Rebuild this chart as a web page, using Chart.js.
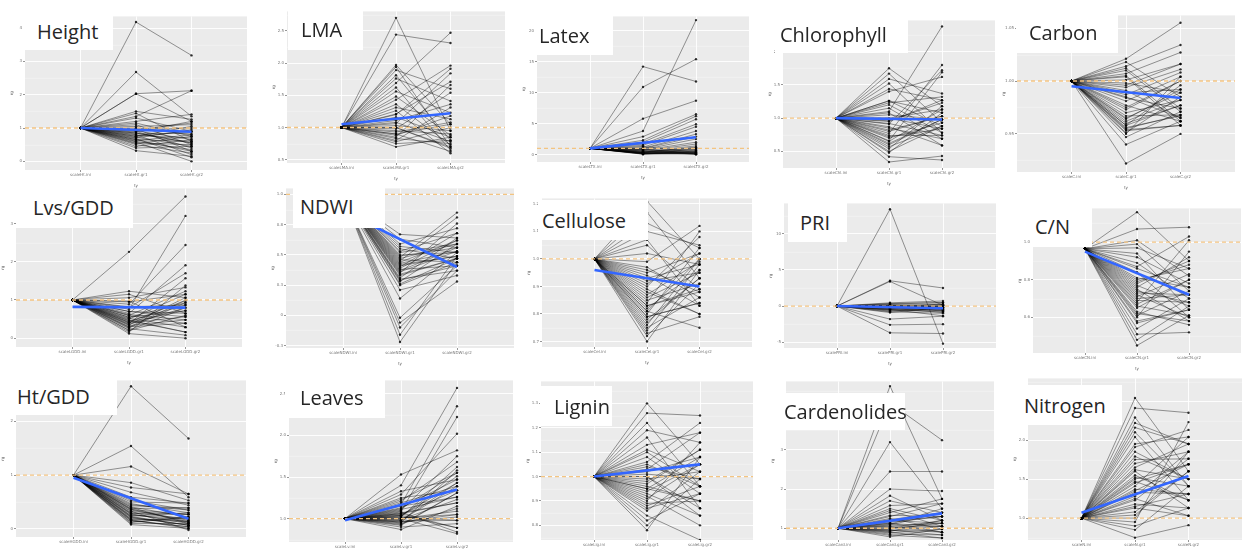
<!DOCTYPE html>
<html>
<head>
<meta charset="utf-8">
<script src="https://cdn.jsdelivr.net/npm/chart.js@4.4.1/dist/chart.umd.min.js"></script>
<style>
  html, body { margin: 0; padding: 0; background: #ffffff; }
  #fig { position: relative; width: 1249px; height: 550px; overflow: hidden; background: #ffffff; }
  #fig canvas { position: absolute; }
  .lab {
    position: absolute; background: #ffffff; box-sizing: border-box;
    font-family: 'Open Sans', 'DejaVu Sans', sans-serif; font-size: 20px; color: #262626;
    display: flex; align-items: center; z-index: 5; white-space: nowrap;
  }
</style>
</head>
<body>
<div id="fig"></div>
<script>
// ---- trait values per plant: value at first stage is the common start, then stage 2 and stage 3 ----

const heightStart = 1.0, heightRef = 1.0, heightTrend = [1.0, 0.89];
const heightTicks = ['scaleHt.ini', 'scaleHt.gr1', 'scaleHt.gr2'];
const heightMid = [4.18, 2.68, 2.03, 2.03, 1.50, 1.44, 1.35, 1.30, 1.20, 1.15, 1.10, 1.05, 1.00, 0.98, 0.95, 0.92, 0.90, 0.88, 0.85, 0.82, 0.80, 0.78, 0.75, 0.72, 0.70, 0.68, 0.65, 0.62, 0.60, 0.58, 0.55, 0.53, 0.50, 0.45, 0.40, 0.32, 0.95, 0.85, 0.75, 0.65];
const heightEnd = [3.18, 1.35, 2.12, 1.20, 1.26, 0.60, 2.12, 0.90, 1.41, 0.75, 0.50, 1.10, 0.80, 0.30, 1.00, 0.65, 0.40, 1.20, 0.55, 0.85, 0.20, 0.70, 1.05, 0.45, 0.95, 0.12, 0.60, 0.80, 0.35, 0.00, 0.50, 0.75, 0.25, 0.65, 0.45, 0.15, 1.15, 0.55, 0.90, 0.30];

const lmaStart = 1.0, lmaRef = 1.0, lmaTrend = [1.05, 1.22];
const lmaTicks = ['scaleLMA.ini', 'scaleLMA.gr1', 'scaleLMA.gr2'];
const lmaMid = [2.70, 2.44, 1.97, 1.94, 1.89, 1.81, 1.76, 1.69, 1.62, 1.56, 1.48, 1.43, 1.36, 1.31, 1.26, 1.21, 1.16, 1.11, 1.08, 1.06, 1.03, 1.00, 0.98, 0.95, 0.93, 0.90, 0.88, 0.85, 0.83, 0.80, 0.78, 0.75, 0.70, 1.20, 1.00, 0.90];
const lmaEnd = [0.95, 2.31, 1.05, 0.70, 1.60, 0.80, 1.41, 2.47, 0.65, 1.23, 0.88, 1.96, 0.73, 1.13, 0.60, 1.71, 0.85, 1.36, 0.78, 1.84, 0.95, 0.68, 1.54, 0.90, 1.08, 0.63, 1.18, 1.66, 0.75, 1.31, 1.00, 0.80, 0.85, 1.91, 0.70, 1.05];

const latexStart = 1.0, latexRef = 1.0, latexTrend = [1.0, 2.8];
const latexTicks = ['scaleLTX.ini', 'scaleLTX.gr1', 'scaleLTX.gr2'];
const latexMid = [14.2, 10.9, 5.8, 3.8, 2.9, 2.3, 2.0, 1.7, 1.5, 1.2, 1.0, 0.95, 0.8, 0.7, 0.6, 0.5, 0.4, 0.35, 0.3, 0.25, 0.2, 0.15, 0.1, 0.05, 0.9, 0.6, 0.4, 0.3, 0.2, 0.1, 1.3, 0.8, 0.5, 0.3, 0.2, 0.15];
const latexEnd = [11.8, 15.4, 8.7, 21.7, 6.5, 6.2, 5.7, 4.9, 4.5, 3.8, 3.3, 2.9, 2.5, 2.0, 1.7, 1.4, 1.2, 1.0, 0.8, 0.6, 0.5, 0.4, 0.3, 0.2, 0.1, 0.05, 1.1, 0.9, 0.7, 0.45, 0.35, 0.25, 0.15, 0.1, 0.05, 0.3];

const chlStart = 1.0, chlRef = 1.0, chlTrend = [1.0, 0.98];
const chlTicks = ['scaleChl.ini', 'scaleChl.gr1', 'scaleChl.gr2'];
const chlMid = [1.75, 1.67, 1.59, 1.52, 1.44, 1.40, 1.26, 1.26, 1.23, 1.15, 1.10, 1.05, 1.00, 1.00, 0.96, 0.91, 0.87, 0.82, 0.77, 0.74, 0.70, 0.66, 0.62, 0.57, 0.54, 0.48, 0.42, 0.34, 1.20, 0.95, 0.85, 0.80, 0.72, 0.65, 0.60, 1.08, 0.92, 0.50];
const chlEnd = [1.18, 0.93, 1.37, 0.78, 1.27, 1.62, 1.08, 0.88, 1.32, 0.69, 2.38, 0.98, 1.13, 0.84, 1.23, 1.72, 0.59, 1.03, 1.80, 0.74, 0.93, 1.69, 0.98, 0.88, 1.18, 1.08, 0.37, 0.43, 0.78, 1.27, 0.69, 1.03, 0.84, 1.13, 0.98, 0.59, 0.74, 0.88];

const carbonStart = 1.0, carbonRef = 1.0, carbonTrend = [0.995, 0.984];
const carbonTicks = ['scaleC.ini', 'scaleC.gr1', 'scaleC.gr2'];
const carbonMid = [1.021, 1.018, 1.014, 1.010, 1.007, 1.004, 1.001, 0.998, 0.994, 0.991, 0.987, 0.984, 0.981, 0.977, 0.973, 0.970, 0.967, 0.964, 0.960, 0.958, 0.956, 0.953, 0.951, 0.947, 0.940, 0.922, 1.012, 0.996, 0.985, 0.975, 0.965, 0.958, 0.955, 0.950, 1.005, 0.989, 0.962, 0.954];
const carbonEnd = [1.055, 0.985, 1.034, 0.971, 1.027, 0.958, 1.016, 0.989, 1.011, 0.965, 1.008, 0.974, 1.004, 0.962, 1.000, 0.982, 0.968, 0.992, 0.977, 0.996, 0.967, 0.958, 0.985, 0.971, 0.962, 0.950, 0.974, 1.016, 0.965, 1.000, 0.989, 0.977, 0.968, 1.004, 0.962, 0.992, 0.982, 0.958];

const lvsStart = 1.0, lvsRef = 1.0, lvsTrend = [0.82, 0.80];
const lvsTicks = ['scaleLGDD.ini', 'scaleLGDD.gr1', 'scaleLGDD.gr2'];
const lvsMid = [2.26, 1.23, 1.15, 1.06, 0.97, 0.89, 0.82, 0.76, 0.70, 0.65, 0.59, 0.55, 0.50, 0.46, 0.42, 0.38, 0.33, 0.29, 0.25, 0.21, 0.16, 0.12, 0.80, 0.70, 0.60, 0.52, 0.45, 0.40, 0.35, 0.30, 0.55, 0.48, 0.42, 0.62, 0.36, 0.27, 0.95, 0.20];
const lvsEnd = [3.71, 1.06, 0.65, 1.33, 0.29, 2.44, 0.87, 3.20, 0.56, 1.91, 0.39, 0.93, 1.15, 0.16, 0.72, 1.57, 0.48, 0.99, 0.08, 0.80, 1.38, 0.00, 1.70, 0.65, 1.23, 0.29, 0.87, 0.56, 1.06, 0.39, 0.72, 0.16, 0.99, 0.48, 0.80, 0.93, 1.15, 0.60];

const ndwiStart = 1.0, ndwiRef = 1.0, ndwiTrend = [0.86, 0.40];
const ndwiTicks = ['scaleNDWI.ini', 'scaleNDWI.gr1', 'scaleNDWI.gr2'];
const ndwiMid = [0.67, 0.63, 0.59, 0.55, 0.52, 0.50, 0.48, 0.46, 0.44, 0.42, 0.40, 0.38, 0.36, 0.35, 0.33, 0.30, 0.28, 0.25, 0.21, 0.14, -0.02, -0.06, -0.10, -0.16, -0.22, 0.45, 0.43, 0.39, 0.37, 0.34, 0.31, 0.47, 0.41, 0.53, 0.29, 0.57, 0.49, 0.26];
const ndwiEnd = [0.64, 0.56, 0.72, 0.47, 0.59, 0.52, 0.85, 0.44, 0.62, 0.49, 0.68, 0.41, 0.53, 0.76, 0.47, 0.37, 0.59, 0.44, 0.33, 0.52, 0.41, 0.28, 0.37, 0.49, 0.44, 0.81, 0.53, 0.62, 0.56, 0.47, 0.64, 0.59, 0.49, 0.68, 0.41, 0.52, 0.56, 0.47];

const celStart = 1.0, celRef = 1.0, celTrend = [0.96, 0.90];
const celTicks = ['scaleCel.ini', 'scaleCel.gr1', 'scaleCel.gr2'];
const celMid = [1.21, 1.17, 1.10, 1.05, 1.02, 0.99, 0.97, 0.95, 0.94, 0.92, 0.90, 0.89, 0.87, 0.85, 0.84, 0.83, 0.82, 0.81, 0.80, 0.79, 0.78, 0.76, 0.75, 0.74, 0.73, 0.72, 0.70, 1.13, 1.07, 0.96, 0.91, 0.86, 0.83, 0.81, 0.79, 0.77, 0.88, 0.93];
const celEnd = [1.00, 0.93, 1.05, 0.89, 0.98, 1.12, 0.86, 1.02, 0.83, 0.95, 1.08, 0.80, 0.99, 0.91, 1.10, 0.88, 0.96, 0.75, 1.04, 0.84, 0.93, 1.00, 0.86, 0.98, 0.79, 0.91, 0.96, 1.04, 0.83, 0.88, 1.02, 0.95, 0.89, 1.00, 0.84, 0.93, 0.80, 0.98];

const priStart = 0.0, priRef = 0.0, priTrend = [0.0, -0.3];
const priTicks = ['scalePRI.ini', 'scalePRI.gr1', 'scalePRI.gr2'];
const priMid = [13.4, 3.5, 3.4, 0.45, 0.3, 0.2, 0.1, 0.0, 0.0, -0.1, -0.2, -0.3, -0.45, -0.5, -0.6, -0.7, -0.9, -1.8, -2.6, -3.7, 0.35, 0.15, -0.05, -0.15, -0.35, -0.55, 0.05, -0.25, -0.4, -0.8];
const priEnd = [-5.2, 2.5, 0.1, 0.7, 0.45, 0.2, -0.2, 0.0, -0.45, -0.7, 0.3, -0.9, -1.35, 0.1, -0.3, -0.5, -0.2, -1.4, -2.5, -3.8, 0.5, -0.1, -0.6, 0.2, -0.4, -0.8, -0.15, 0.0, -0.6, -1.0];

const cnStart = 0.965, cnRef = 1.0, cnTrend = [0.95, 0.72];
const cnTicks = ['scaleCN.ini', 'scaleCN.gr1', 'scaleCN.gr2'];
const cnMid = [1.16, 1.07, 1.01, 0.99, 0.97, 0.94, 0.92, 0.89, 0.87, 0.84, 0.81, 0.79, 0.77, 0.76, 0.75, 0.73, 0.71, 0.69, 0.68, 0.66, 0.65, 0.63, 0.61, 0.60, 0.58, 0.54, 0.51, 0.48, 0.45, 0.86, 0.80, 0.74, 0.70, 0.67, 0.62, 0.57, 0.78, 0.72];
const cnEnd = [0.90, 1.08, 0.82, 0.74, 0.86, 0.64, 0.78, 0.70, 1.03, 0.60, 0.76, 0.88, 0.66, 0.92, 0.58, 0.72, 0.83, 0.68, 1.01, 0.61, 0.80, 0.56, 0.74, 0.95, 0.64, 0.70, 0.52, 0.66, 0.61, 0.76, 0.86, 0.68, 0.72, 0.80, 0.58, 0.64, 0.90, 0.60];

const htgddStart = 1.0, htgddRef = 1.0, htgddTrend = [0.95, 0.19];
const htgddTicks = ['scaleHGDD.ini', 'scaleHGDD.gr1', 'scaleHGDD.gr2'];
const htgddMid = [2.65, 1.54, 1.16, 0.86, 0.77, 0.68, 0.59, 0.53, 0.47, 0.41, 0.38, 0.35, 0.32, 0.28, 0.25, 0.22, 0.19, 0.16, 0.13, 0.08, 0.45, 0.40, 0.36, 0.33, 0.30, 0.27, 0.24, 0.21, 0.18, 0.15, 0.12, 0.10, 0.50, 0.43, 0.37, 0.29, 0.23, 0.17];
const htgddEnd = [1.68, 0.59, 0.65, 0.53, 0.65, 0.44, 0.48, 0.35, 0.30, 0.22, 0.39, 0.16, 0.27, 0.10, 0.19, 0.07, 0.13, 0.04, 0.22, 0.01, 0.35, 0.10, 0.27, -0.02, 0.19, 0.13, 0.30, 0.07, 0.16, 0.04, 0.22, 0.10, 0.48, 0.39, 0.13, 0.27, 0.07, 0.01];

const leavesStart = 1.0, leavesRef = 1.0, leavesTrend = [0.98, 1.35];
const leavesTicks = ['scaleLv.ini', 'scaleLv.gr1', 'scaleLv.gr2'];
const leavesMid = [1.53, 1.40, 1.33, 1.29, 1.25, 1.21, 1.17, 1.15, 1.12, 1.09, 1.07, 1.04, 1.02, 1.00, 0.98, 0.96, 0.93, 0.90, 0.87, 1.10, 1.06, 1.03, 1.01, 0.99, 0.97, 0.95, 1.08, 1.05, 1.13, 1.19, 1.00, 0.94, 1.11, 1.02, 0.98, 1.23, 1.06, 0.96, 1.04, 0.92];
const leavesEnd = [1.82, 2.57, 1.47, 2.02, 1.34, 1.68, 2.35, 1.26, 1.55, 2.22, 1.19, 1.43, 1.62, 1.09, 1.39, 1.02, 1.31, 0.94, 1.15, 1.75, 0.89, 1.51, 1.05, 1.23, 0.98, 1.58, 0.84, 1.34, 1.47, 1.39, 0.82, 1.12, 1.26, 0.98, 1.43, 1.55, 1.19, 1.05, 0.89, 1.31];

const ligStart = 1.0, ligRef = 1.0, ligTrend = [1.0, 1.05];
const ligTicks = ['scaleLig.ini', 'scaleLig.gr1', 'scaleLig.gr2'];
const ligMid = [1.30, 1.26, 1.22, 1.19, 1.16, 1.13, 1.11, 1.08, 1.06, 1.04, 1.02, 1.00, 0.98, 0.96, 0.94, 0.92, 0.90, 0.88, 0.86, 0.84, 0.82, 0.80, 0.78, 1.00, 0.97, 0.95, 1.03, 0.93, 0.99, 1.05, 0.91, 0.87, 1.01, 0.95, 0.89, 1.10];
const ligEnd = [1.05, 1.25, 0.96, 1.14, 0.87, 1.18, 1.02, 0.93, 1.22, 0.99, 1.08, 0.84, 1.11, 0.90, 1.05, 0.80, 1.14, 0.96, 1.02, 0.74, 0.93, 0.99, 1.08, 0.87, 1.11, 0.90, 1.18, 0.84, 1.02, 0.96, 1.05, 0.93, 0.99, 1.08, 0.90, 0.96];

const cardStart = 1.0, cardRef = 1.0, cardTrend = [1.0, 1.38];
const cardTicks = ['scaleCard.ini', 'scaleCard.gr1', 'scaleCard.gr2'];
const cardMid = [4.63, 4.2, 3.2, 2.45, 2.0, 1.83, 1.7, 1.58, 1.45, 1.33, 1.25, 1.2, 1.13, 1.08, 1.0, 0.93, 0.85, 0.78, 1.15, 1.05, 0.98, 0.9, 1.1, 1.3, 1.5, 1.02, 0.95, 0.88, 1.18, 1.4, 1.06, 0.96, 0.82, 1.22, 1.12, 0.92];
const cardEnd = [1.75, 3.25, 1.5, 2.45, 1.95, 1.2, 1.4, 1.63, 1.05, 1.3, 0.98, 1.13, 0.9, 1.4, 1.2, 1.05, 0.83, 0.98, 1.3, 0.9, 1.13, 0.75, 1.5, 1.63, 1.2, 1.05, 0.83, 0.98, 1.3, 1.75, 1.13, 0.9, 0.75, 1.4, 1.05, 1.2];

const nitStart = 1.0, nitRef = 1.0, nitTrend = [1.07, 1.54];
const nitTicks = ['scaleN.ini', 'scaleN.gr1', 'scaleN.gr2'];
const nitMid = [2.54, 2.41, 2.29, 2.16, 2.04, 1.91, 1.79, 1.70, 1.60, 1.50, 1.41, 1.33, 1.23, 1.13, 1.04, 0.95, 0.85, 0.75, 1.85, 1.65, 1.55, 1.45, 1.37, 1.28, 1.18, 1.08, 2.10, 1.95, 1.75, 1.62, 1.47, 1.35, 1.25, 1.15, 1.00, 0.90, 2.22, 1.52];
const nitEnd = [1.60, 2.35, 1.41, 1.95, 1.23, 2.13, 1.50, 1.85, 1.13, 1.69, 2.04, 1.31, 1.76, 1.03, 1.60, 2.23, 1.41, 0.91, 1.50, 1.95, 1.23, 1.69, 1.31, 1.85, 1.13, 1.60, 1.41, 2.04, 1.76, 1.50, 1.23, 1.69, 1.03, 1.31, 1.85, 1.13, 1.95, 1.41];

// ---- panel layout: plot-area rectangle (left, top, width, bottom), axis range,
//      label box [left, top, width, height, text inset] ----
const AX_W = 16, AX_H = 18;
const panels = [
  { title: 'Height',       start: heightStart, ref: heightRef, trend: heightTrend, ticks: heightTicks, mid: heightMid, end: heightEnd, gl: 25,   gt: 13,  w: 222, gb: 170, yMin: -0.26, yMax: 4.35, step: 1,    box: [22, 13, 91, 37, 15] },
  { title: 'LMA',          start: lmaStart,    ref: lmaRef,    trend: lmaTrend,    ticks: lmaTicks,    mid: lmaMid,    end: lmaEnd,    gl: 287,  gt: 8,   w: 218, gb: 163, yMin: 0.45,  yMax: 2.80, step: 0.5,  box: [288, 8, 75, 42, 13] },
  { title: 'Latex',        start: latexStart,  ref: latexRef,  trend: latexTrend,  ticks: latexTicks,  mid: latexMid,  end: latexEnd,  gl: 537,  gt: 13,  w: 212, gb: 162, yMin: -1.2,  yMax: 22.3, step: 5,    box: [535, 15, 78, 40, 4] },
  { title: 'Chlorophyll',  start: chlStart,    ref: chlRef,    trend: chlTrend,    ticks: chlTicks,    mid: chlMid,    end: chlEnd,    gl: 783,  gt: 17,  w: 212, gb: 168, yMin: 0.25,  yMax: 2.47, step: 0.5,  box: [775, 15, 133, 38, 5] },
  { title: 'Carbon',       start: carbonStart, ref: carbonRef, trend: carbonTrend, ticks: carbonTicks, mid: carbonMid, end: carbonEnd, gl: 1017, gt: 12,  w: 218, gb: 172, yMin: 0.914, yMax: 1.062, step: 0.05, box: [1016, 12, 102, 41, 13] },
  { title: 'Lvs/GDD',      start: lvsStart,    ref: lvsRef,    trend: lvsTrend,    ticks: lvsTicks,    mid: lvsMid,    end: lvsEnd,    gl: 16,   gt: 185, w: 226, gb: 347, yMin: -0.23, yMax: 3.92, step: 1,    box: [16, 187, 117, 41, 17] },
  { title: 'NDWI',         start: ndwiStart,   ref: ndwiRef,   trend: ndwiTrend,   ticks: ndwiTicks,   mid: ndwiMid,   end: ndwiEnd,   gl: 286,  gt: 185, w: 228, gb: 348, yMin: -0.27, yMax: 1.05, step: 0.25, box: [293, 185, 92, 43, 7] },
  { title: 'Cellulose',    start: celStart,    ref: celRef,    trend: celTrend,    ticks: celTicks,    mid: celMid,    end: celEnd,    gl: 542,  gt: 195, w: 210, gb: 347, yMin: 0.68,  yMax: 1.22, step: 0.1,  box: [538, 200, 110, 40, 4] },
  { title: 'PRI',          start: priStart,    ref: priRef,    trend: priTrend,    ticks: priTicks,    mid: priMid,    end: priEnd,    gl: 784,  gt: 200, w: 212, gb: 348, yMin: -5.8,  yMax: 14.2, step: 5,    box: [788, 202, 59, 40, 12] },
  { title: 'C/N',          start: cnStart,     ref: cnRef,     trend: cnTrend,     ticks: cnTicks,     mid: cnMid,     end: cnEnd,     gl: 1033, gt: 205, w: 208, gb: 353, yMin: 0.41,  yMax: 1.18, step: 0.2,  box: [1030, 205, 62, 42, 5] },
  { title: 'Ht/GDD',       start: htgddStart,  ref: htgddRef,  trend: htgddTrend,  ticks: htgddTicks,  mid: htgddMid,  end: htgddEnd,  gl: 16,   gt: 377, w: 230, gb: 537, yMin: -0.15, yMax: 2.76, step: 1,    box: [13, 377, 104, 38, 4] },
  { title: 'Leaves',       start: leavesStart, ref: leavesRef, trend: leavesTrend, ticks: leavesTicks, mid: leavesMid, end: leavesEnd, gl: 289,  gt: 377, w: 224, gb: 542, yMin: 0.72,  yMax: 2.66, step: 0.5,  box: [285, 377, 100, 41, 15] },
  { title: 'Lignin',       start: ligStart,    ref: ligRef,    trend: ligTrend,    ticks: ligTicks,    mid: ligMid,    end: ligEnd,    gl: 541,  gt: 378, w: 212, gb: 540, yMin: 0.74,  yMax: 1.39, step: 0.1,  box: [540, 386, 72, 40, 14] },
  { title: 'Cardenolides', start: cardStart,   ref: cardRef,   trend: cardTrend,   ticks: cardTicks,   mid: cardMid,   end: cardEnd,   gl: 786,  gt: 378, w: 208, gb: 540, yMin: 0.7,   yMax: 4.75, step: 1,    box: [775, 393, 130, 37, 9] },
  { title: 'Nitrogen',     start: nitStart,    ref: nitRef,    trend: nitTrend,    ticks: nitTicks,    mid: nitMid,    end: nitEnd,    gl: 1028, gt: 375, w: 214, gb: 540, yMin: 0.72,  yMax: 2.79, step: 0.5,  box: [1015, 385, 107, 40, 9] }
];

// grey panel background plus faint minor grid lines between the major ones
const panelBg = {
  id: 'panelBg',
  beforeDraw(chart) {
    const { ctx, chartArea: a } = chart;
    ctx.save();
    ctx.fillStyle = '#ebebeb';
    ctx.fillRect(a.left, a.top, a.width, a.height);
    ctx.restore();
  },
  beforeDatasetsDraw(chart, args, opts) {
    const { ctx, chartArea: a, scales: { y } } = chart;
    const step = opts.step;
    if (!step) return;
    const first = Math.ceil(y.min / step) * step - step / 2;
    ctx.save();
    ctx.strokeStyle = 'rgba(255,255,255,0.75)';
    ctx.lineWidth = 0.5;
    for (let v = first; v <= y.max; v += step) {
      const py = Math.round(y.getPixelForValue(v)) + 0.25;
      if (py < a.top || py > a.bottom) continue;
      ctx.beginPath();
      ctx.moveTo(a.left, py);
      ctx.lineTo(a.right, py);
      ctx.stroke();
    }
    ctx.restore();
  }
};

const fig = document.getElementById('fig');

function buildPanel(p) {
  const W = p.w + AX_W, H = (p.gb - p.gt) + AX_H;
  const cv = document.createElement('canvas');
  cv.width = W; cv.height = H;
  cv.style.left = (p.gl - AX_W) + 'px';
  cv.style.top = p.gt + 'px';
  cv.style.width = W + 'px';
  cv.style.height = H + 'px';
  fig.appendChild(cv);

  const datasets = [];
  p.mid.forEach((m, i) => {
    datasets.push({
      data: [{ x: 1, y: p.start }, { x: 2, y: m }, { x: 3, y: p.end[i] }],
      borderColor: 'rgba(0,0,0,0.5)', borderWidth: 0.8,
      pointRadius: 1.2, pointBackgroundColor: 'rgba(0,0,0,0.8)', pointBorderWidth: 0,
      order: 3
    });
  });
  datasets.push({
    data: [{ x: 0, y: p.ref }, { x: 4, y: p.ref }],
    borderColor: '#f3c481', borderWidth: 1.3, borderDash: [4, 3],
    pointRadius: 0, order: 1
  });
  datasets.push({
    data: [{ x: 1, y: p.trend[0] }, { x: 3, y: p.trend[1] }],
    borderColor: '#3366ff', borderWidth: 2.6, pointRadius: 0, order: 0
  });

  const gridOpts = { color: '#ffffff', lineWidth: 0.9, tickLength: 2, tickColor: '#8a8a8a' };
  new Chart(cv, {
    type: 'line',
    data: { datasets },
    plugins: [panelBg],
    options: {
      responsive: false, animation: false, devicePixelRatio: 1,
      layout: { padding: 0, autoPadding: false },
      elements: { line: { tension: 0 } },
      plugins: { legend: { display: false }, tooltip: { enabled: false }, panelBg: { step: p.step } },
      scales: {
        x: {
          type: 'linear', min: 0, max: 4,
          afterBuildTicks: s => { s.ticks = [1, 2, 3].map(v => ({ value: v })); },
          afterFit: s => { s.height = AX_H; },
          ticks: { font: { size: 4, family: 'DejaVu Sans' }, color: '#777777', padding: 1, maxRotation: 0, autoSkip: false,
                   callback: v => p.ticks[v - 1] },
          grid: gridOpts, border: { display: false },
          title: { display: true, text: 'ty', font: { size: 4, family: 'DejaVu Sans' }, color: '#555555', padding: 0 }
        },
        y: {
          min: p.yMin, max: p.yMax,
          afterFit: s => { s.width = AX_W; },
          afterBuildTicks: s => {
            const lo = Math.ceil(p.yMin / p.step - 1e-9), hi = Math.floor(p.yMax / p.step + 1e-9);
            const t = [];
            for (let k = lo; k <= hi; k++) t.push({ value: +(k * p.step).toFixed(4) });
            s.ticks = t;
          },
          ticks: { stepSize: p.step, autoSkip: false, font: { size: 4, family: 'DejaVu Sans' }, color: '#777777', padding: 1 },
          grid: gridOpts, border: { display: false },
          title: { display: true, text: 'rg', font: { size: 4, family: 'DejaVu Sans' }, color: '#555555', padding: 1 }
        }
      }
    }
  });

  const lab = document.createElement('div');
  lab.className = 'lab';
  lab.textContent = p.title;
  lab.style.left = p.box[0] + 'px';
  lab.style.top = p.box[1] + 'px';
  lab.style.width = p.box[2] + 'px';
  lab.style.height = p.box[3] + 'px';
  lab.style.paddingLeft = p.box[4] + 'px';
  fig.appendChild(lab);
}

panels.forEach(buildPanel);
</script>
</body>
</html>
